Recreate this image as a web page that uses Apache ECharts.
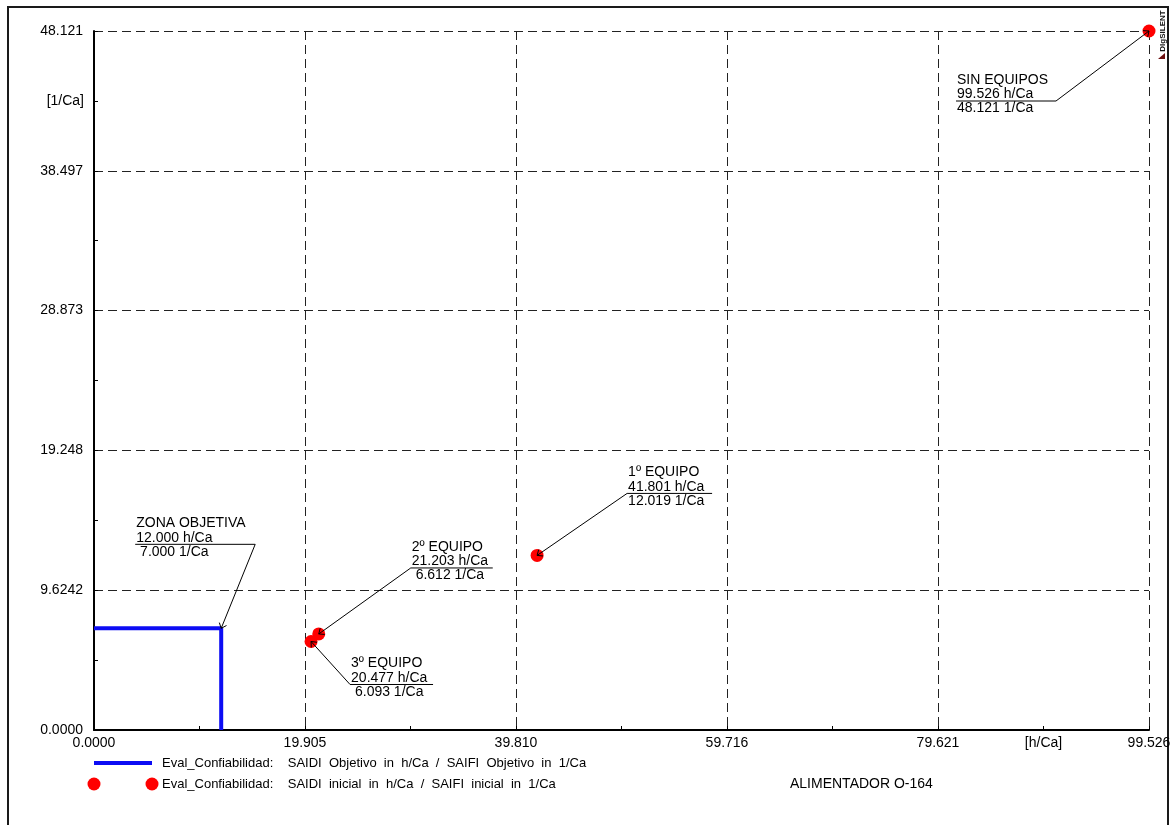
<!DOCTYPE html>
<html>
<head>
<meta charset="utf-8">
<script src="https://cdn.jsdelivr.net/npm/echarts@6/dist/echarts.min.js"></script>
<style>
  html, body { margin: 0; padding: 0; background: #fff; }
  #chart { width: 1174px; height: 825px; }
</style>
</head>
<body>
<div id="chart"></div>
<script>
// Reliability stages: SAIDI [h/Ca] vs SAIFI [1/Ca]
const stageNames = ['SIN EQUIPOS', '1º EQUIPO', '2º EQUIPO', '3º EQUIPO'];
const stageSaidi = [99.526, 41.801, 21.203, 20.477];
const stageSaifi = [48.121, 12.019, 6.612, 6.093];

// Target zone corner
const targetName = 'ZONA OBJETIVA';
const targetSaidi = 12.000;
const targetSaifi = 7.000;

// Axis ranges and tick labels
const xMax = 99.526;
const yMax = 48.121;
const xTickLabels = ['0.0000', '19.905', '39.810', '59.716', '79.621', '99.526'];
const yTickLabels = ['0.0000', '9.6242', '19.248', '28.873', '38.497', '48.121'];
const xUnit = '[h/Ca]';
const yUnit = '[1/Ca]';

const targetSeriesName = 'Eval_Confiabilidad:    SAIDI  Objetivo  in  h/Ca  /  SAIFI  Objetivo  in  1/Ca';
const stageSeriesName = 'Eval_Confiabilidad:    SAIDI  inicial  in  h/Ca  /  SAIFI  inicial  in  1/Ca';
const feederName = 'ALIMENTADOR O-164';

// Callout placement (pixel offsets from the marked point to the underline end)
const calloutLayout = {
  'SIN EQUIPOS':   { dx: -93, dy: 70,  side: 'left',  width: 100 },
  '1º EQUIPO':     { dx: 90,  dy: -62, side: 'right', width: 85 },
  '2º EQUIPO':     { dx: 92,  dy: -66, side: 'right', width: 82 },
  '3º EQUIPO':     { dx: 39,  dy: 43,  side: 'right', width: 83 },
  'ZONA OBJETIVA': { dx: 34,  dy: -84, side: 'left',  width: 120 }
};

const FONT = '"Liberation Sans", Arial, sans-serif';
const FS = 14;        // axis labels and callouts
const FS_LEGEND = 13; // legend rows

const xStep = xMax / 5;
const yStep = yMax / 5;

const calloutData = stageNames
  .map((n, i) => [stageSaidi[i], stageSaifi[i], n])
  .concat([[targetSaidi, targetSaifi, targetName]]);

const fmt = v => v.toFixed(3).padStart(6, ' ');

function renderCallout(params, api) {
  const item = calloutData[params.dataIndex];
  const lay = calloutLayout[item[2]];
  const p = api.coord([item[0], item[1]]);
  const ax = p[0] + lay.dx;
  const ay = p[1] + lay.dy;
  const x0 = lay.side === 'left' ? ax - lay.width : ax;
  const x1 = x0 + lay.width;
  const tx = x0 + 1;
  const ang = Math.atan2(ay - p[1], ax - p[0]);
  const bl = 6, spread = 0.7;
  const stroke = { stroke: '#000', lineWidth: 1 };
  const txt = (y, s) => ({
    type: 'text',
    style: { x: tx, y: y, text: s, fill: '#000', font: FS + 'px ' + FONT, textAlign: 'left', textVerticalAlign: 'middle' }
  });
  return {
    type: 'group',
    children: [
      { type: 'line', shape: { x1: p[0], y1: p[1], x2: ax, y2: ay }, style: stroke },
      { type: 'line', shape: { x1: p[0], y1: p[1], x2: p[0] + bl * Math.cos(ang + spread), y2: p[1] + bl * Math.sin(ang + spread) }, style: stroke },
      { type: 'line', shape: { x1: p[0], y1: p[1], x2: p[0] + bl * Math.cos(ang - spread), y2: p[1] + bl * Math.sin(ang - spread) }, style: stroke },
      { type: 'line', shape: { x1: x0, y1: ay, x2: x1, y2: ay }, style: stroke },
      txt(ay - 21, item[2]),
      txt(ay - 6.5, fmt(item[0]) + ' h/Ca'),
      txt(ay + 7.5, fmt(item[1]) + ' 1/Ca')
    ]
  };
}

const chart = echarts.init(document.getElementById('chart'), null, { renderer: 'canvas' });

const axisCommon = {
  type: 'value',
  axisLine: { show: true, onZero: false, lineStyle: { color: '#000', width: 2 } },
  axisTick: { show: true, inside: true, length: 4, lineStyle: { color: '#000', width: 1 } },
  minorTick: { show: true, splitNumber: 2, length: 4, lineStyle: { color: '#000', width: 1 } },
  splitLine: { show: true, lineStyle: { color: '#222', width: 1, type: [9, 5] } },
  minorSplitLine: { show: false }
};

chart.setOption({
  animation: false,
  backgroundColor: '#fff',
  textStyle: { fontFamily: FONT },
  grid: { left: 94, right: 25, top: 31, bottom: 95, containLabel: false, outerBoundsMode: 'none' },
  xAxis: Object.assign({}, axisCommon, {
    min: 0, max: xMax, interval: xStep,
    axisLabel: {
      margin: 6, color: '#000', fontSize: FS, fontFamily: FONT,
      showMinLabel: true, showMaxLabel: true,
      formatter: v => xTickLabels[Math.round(v / xStep)]
    }
  }),
  yAxis: Object.assign({}, axisCommon, {
    min: 0, max: yMax, interval: yStep,
    axisLabel: {
      margin: 11, color: '#000', fontSize: FS, fontFamily: FONT,
      showMinLabel: true, showMaxLabel: true,
      formatter: v => yTickLabels[Math.round(v / yStep)]
    }
  }),
  series: [
    {
      name: targetSeriesName,
      type: 'line',
      data: [[0, targetSaifi], [targetSaidi, targetSaifi], [targetSaidi, 0]],
      symbol: 'none',
      lineStyle: { color: '#0c0cf4', width: 4 },
      z: 3
    },
    {
      name: stageSeriesName,
      type: 'scatter',
      data: stageSaidi.map((x, i) => [x, stageSaifi[i]]),
      symbol: 'circle',
      symbolSize: 13,
      itemStyle: { color: '#ff0000', opacity: 1 },
      clip: false,
      z: 4
    },
    {
      type: 'custom',
      data: calloutData.map(d => [d[0], d[1]]),
      renderItem: renderCallout,
      clip: false,
      silent: true,
      z: 5
    }
  ]
});

// Decorations: frame, axis units, legend rows, feeder name, logo
const xUnitPos = chart.convertToPixel({ xAxisIndex: 0 }, xMax - xStep / 2);
const yUnitPos = chart.convertToPixel({ yAxisIndex: 0 }, yMax - yStep / 2);
const x0px = chart.convertToPixel({ xAxisIndex: 0 }, 0);
const xEndLegend = x0px + 58;
const legendRow1 = 763, legendRow2 = 784;
const txtStyle = (x, y, s, align, size) => ({
  x: x, y: y, text: s, fill: '#000', font: (size || FS) + 'px ' + FONT,
  textAlign: align || 'left', textVerticalAlign: 'middle'
});

chart.setOption({
  graphic: [
    { type: 'rect', shape: { x: 8, y: 7, width: 1160, height: 830 }, style: { fill: null, stroke: '#1a1a1a', lineWidth: 2 }, silent: true },
    { type: 'text', style: txtStyle(xUnitPos, 743, xUnit, 'center') },
    { type: 'text', style: txtStyle(84, yUnitPos, yUnit, 'right') },
    { type: 'line', shape: { x1: x0px, y1: legendRow1, x2: xEndLegend, y2: legendRow1 }, style: { stroke: '#0c0cf4', lineWidth: 4 } },
    { type: 'text', style: txtStyle(162, legendRow1, targetSeriesName, 'left', FS_LEGEND) },
    { type: 'circle', shape: { cx: x0px, cy: legendRow2, r: 6.5 }, style: { fill: '#ff0000' } },
    { type: 'circle', shape: { cx: xEndLegend, cy: legendRow2, r: 6.5 }, style: { fill: '#ff0000' } },
    { type: 'text', style: txtStyle(162, legendRow2, stageSeriesName, 'left', FS_LEGEND) },
    { type: 'text', style: txtStyle(790, legendRow2, feederName) },
    { type: 'text', x: 1163, y: 31, rotation: Math.PI / 2,
      style: { x: 0, y: 0, text: 'DIgSILENT', fill: '#111', font: 'bold 8px ' + FONT, textAlign: 'center', textVerticalAlign: 'middle' } },
    { type: 'polygon', shape: { points: [[1158, 59], [1165, 53], [1165, 59]] }, style: { fill: '#6b0f0f' } }
  ]
});
</script>
</body>
</html>
